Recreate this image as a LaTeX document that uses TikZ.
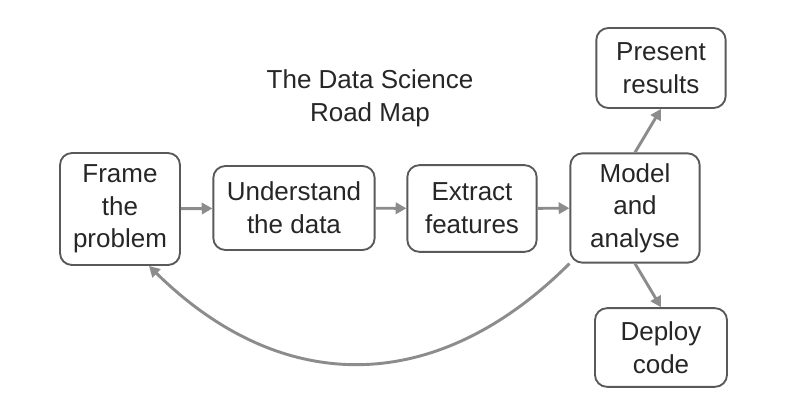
\documentclass[tikz,border=0pt]{standalone}
\usepackage{fontspec}
\setmainfont{Liberation Sans}
\usetikzlibrary{arrows.meta}

\tikzset{
  stage/.style={draw=black!65, line width=1.4pt, rounded corners=9pt, align=center,
    inner sep=0.75pt, font=\fontsize{19.5}{24.5}\selectfont, text=black!85},
  flow/.style={draw=black!45, line width=2.2pt, -{Triangle[length=8pt,width=8.5pt]}}
}

\begin{document}
\begin{tikzpicture}[x=0.75pt,y=0.75pt,yscale=-1,xscale=1]

            % Frame
            \useasboundingbox (0,0) rectangle (786,414);

            % Title
            \node (title) at (370,98) [align=center, inner sep=0.75pt, font=\fontsize{19.5}{24.5}\selectfont, text=black!85] {The Data Science\\Road Map};

            % Stages
            \node (frame)      at (120,209) [stage, minimum width=90pt,  minimum height=84pt] {Frame\\the\\problem};
            \node (understand) at (294,208) [stage, minimum width=121pt, minimum height=63pt] {Understand\\the data};
            \node (extract)    at (472,208.5) [stage, minimum width=97pt, minimum height=65pt] {Extract\\features};
            \node (model)      at (635,208) [stage, minimum width=97pt,  minimum height=82pt] {Model\\and\\analyse};
            \node (present)    at (661,68)  [stage, minimum width=97pt,  minimum height=60pt] {Present\\results};
            \node (deploy)     at (661,347.5) [stage, minimum width=99pt, minimum height=59pt] {Deploy\\code};

            % Flow
            \draw[flow] (frame) -- (understand);
            \draw[flow] (understand) -- (extract);
            \draw[flow] (extract) -- (model);
            \draw[flow] (model.north) -- (present.south);
            \draw[flow] (model.south) -- (deploy.north);

            % Loop back
            \draw[flow] (model.south west) .. controls +(-133,133) and +(133,131) .. (frame.297);

\end{tikzpicture}
\end{document}
